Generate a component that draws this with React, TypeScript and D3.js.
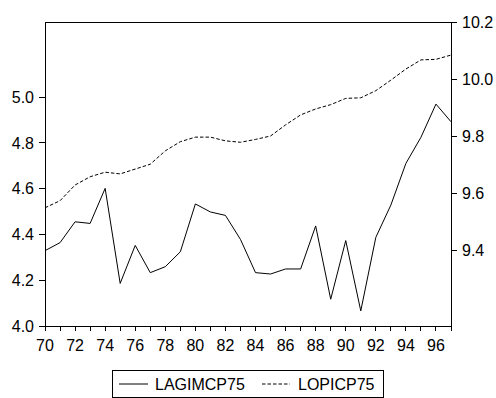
import React from "react";
import * as d3 from "d3";

const years = d3.range(1970, 1998);
const lagimcp75 = [
  4.329, 4.364, 4.455, 4.448, 4.601, 4.186, 4.352, 4.233, 4.259, 4.324,
  4.533, 4.498, 4.483, 4.378, 4.233, 4.227, 4.249, 4.249, 4.437, 4.117,
  4.373, 4.066, 4.387, 4.528, 4.71, 4.824, 4.969, 4.892,
];
const lopicp75 = [
  9.548, 9.573, 9.628, 9.657, 9.673, 9.667, 9.684, 9.701, 9.748, 9.78,
  9.796, 9.796, 9.783, 9.778, 9.788, 9.8, 9.839, 9.874, 9.895, 9.91,
  9.932, 9.934, 9.959, 9.996, 10.035, 10.067, 10.069, 10.084,
];
const leftTicks = [4.0, 4.2, 4.4, 4.6, 4.8, 5.0];
const rightTicks = [9.4, 9.6, 9.8, 10.0, 10.2];
const xLabelYears = d3.range(1970, 1998, 2);
const seriesNames = ["LAGIMCP75", "LOPICP75"];

export default function App() {
  const W = 496, H = 398;
  const L = 45, R = 451, T = 22, B = 326;
  const x = d3.scaleLinear().domain([1970, 1997]).range([L, R]);
  const yL = d3.scaleLinear().domain([4.0, 5.0]).range([B, 97]);
  const yR = d3.scaleLinear().domain([9.4, 10.2]).range([250, T]);
  const lineL = d3.line<number>().x((_, i) => x(years[i])).y((d) => yL(d));
  const lineR = d3.line<number>().x((_, i) => x(years[i])).y((d) => yR(d));
  const font = "Liberation Sans, Arial, sans-serif";
  const fs = 16;
  return (
    <svg width={W} height={H} style={{ position: "absolute", left: 0, top: 0, background: "#fff" }}
      fontFamily={font} fontSize={fs}>
      <rect x={0} y={0} width={W} height={H} fill="#fff" />
      <path d={lineL(lagimcp75) || ""} fill="none" stroke="#000" strokeWidth={1} />
      <path d={lineR(lopicp75) || ""} fill="none" stroke="#000" strokeWidth={1} strokeDasharray="3.5,2" />
      <rect x={L} y={T} width={R - L} height={B - T} fill="none" stroke="#000" strokeWidth={1} shapeRendering="crispEdges" />
      {leftTicks.map((t) => (
        <g key={"l" + t}>
          <line x1={L - 6} x2={L} y1={yL(t)} y2={yL(t)} stroke="#000" shapeRendering="crispEdges" />
          <text x={L - 11} y={yL(t)} dy="0.36em" textAnchor="end">{t.toFixed(1)}</text>
        </g>
      ))}
      {rightTicks.map((t) => (
        <g key={"r" + t}>
          <line x1={R} x2={R + 6} y1={yR(t)} y2={yR(t)} stroke="#000" shapeRendering="crispEdges" />
          <text x={R + 11} y={yR(t)} dy="0.36em" textAnchor="start">{t.toFixed(1)}</text>
        </g>
      ))}
      {years.map((yr) => (
        <line key={"xt" + yr} x1={x(yr)} x2={x(yr)} y1={B} y2={B + 5} stroke="#000" shapeRendering="crispEdges" />
      ))}
      {xLabelYears.map((yr) => (
        <text key={"xl" + yr} x={x(yr)} y={351} textAnchor="middle">{String(yr % 100).padStart(2, "0")}</text>
      ))}
      <rect x={112.5} y={370.5} width={271} height={27} fill="none" stroke="#000" strokeWidth={1} />
      <line x1={119} x2={148} y1={384} y2={384} stroke="#000" />
      <text x={155} y={384} dy="0.36em">{seriesNames[0]}</text>
      <line x1={262} x2={290} y1={384} y2={384} stroke="#000" strokeDasharray="3.5,2" />
      <text x={298} y={384} dy="0.36em">{seriesNames[1]}</text>
    </svg>
  );
}
